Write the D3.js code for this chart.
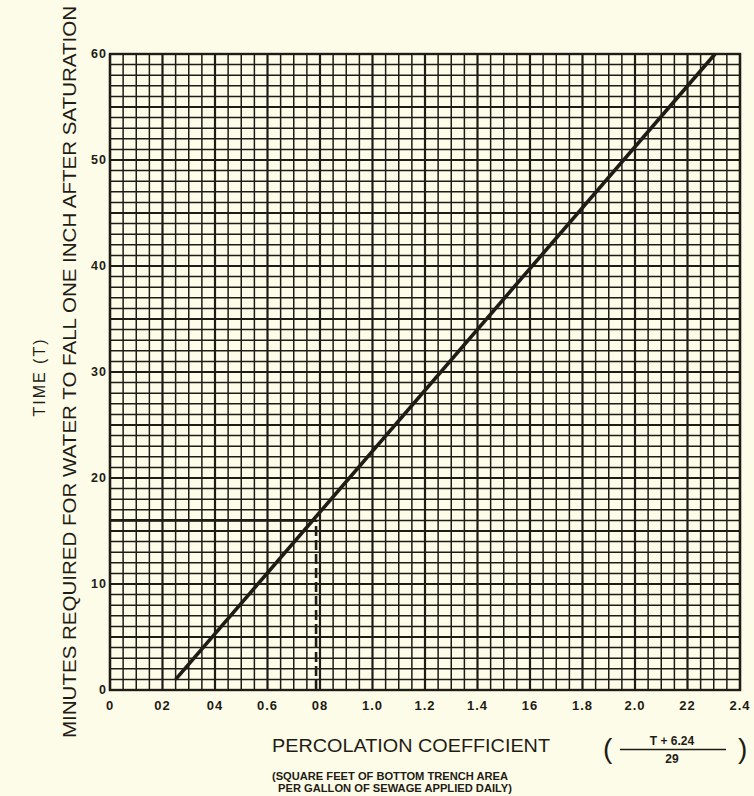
<!DOCTYPE html>
<html>
<head>
<meta charset="utf-8">
<script src="https://cdn.jsdelivr.net/npm/d3@7"></script>
<style>
  body { margin: 0; background: #fdfce8; }
  svg { display: block; }
  text { fill: #1f1b15; font-family: "Liberation Sans", Arial, sans-serif; }
</style>
</head>
<body>
<svg id="chart" width="754" height="796"></svg>
<script>
// axis ticks
var xTicks = [0, 0.2, 0.4, 0.6, 0.8, 1.0, 1.2, 1.4, 1.6, 1.8, 2.0, 2.2, 2.4]
var xTickLabels = ["0", "02", "04", "0.6", "08", "1.0", "1.2", "1.4", "16", "1.8", "2.0", "22", "2.4"]
var yTicks = [0, 10, 20, 30, 40, 50, 60]
var yTickLabels = ["0", "10", "20", "30", "40", "50", "60"]

// the curve (ends of the line)
var lineCoef = [0.25, 2.305]
var lineTime = [1, 60]

// example reading (dashed guide)
var exampleCoef = [0.785]
var exampleTime = [16]

var svg = d3.select("#chart")
var ink = "#1f1b15"

var plotL = 110, plotR = 740, plotT = 54, plotB = 690
var x = d3.scaleLinear().domain([0, 2.4]).range([plotL, plotR])
var y = d3.scaleLinear().domain([0, 60]).range([plotB, plotT])

///////
// grid
var g = svg.append("g")
var xMinor = d3.range(0, 48 + 1).map(d => d * 0.05)
var yMinor = d3.range(0, 61)

g.selectAll(".vx").data(xMinor).enter().append("line")
    .attr("x1", d => x(d)).attr("x2", d => x(d))
    .attr("y1", y(0)).attr("y2", y(60))
    .attr("stroke", ink)
    .attr("stroke-width", (d, i) => i % 4 === 0 ? 2.2 : 1.5)

g.selectAll(".hy").data(yMinor).enter().append("line")
    .attr("y1", d => y(d)).attr("y2", d => y(d))
    .attr("x1", x(0)).attr("x2", x(2.4))
    .attr("stroke", ink)
    .attr("stroke-width", (d, i) => i % 5 === 0 ? 2.2 : 1.5)

// frame
svg.append("rect")
    .attr("x", x(0)).attr("y", y(60))
    .attr("width", x(2.4) - x(0)).attr("height", y(0) - y(60))
    .attr("fill", "none").attr("stroke", ink).attr("stroke-width", 2.4)

////////
// example guide lines
svg.selectAll(".gh").data(exampleTime).enter().append("line")
    .attr("x1", x(0)).attr("x2", (d, i) => x(exampleCoef[i]))
    .attr("y1", d => y(d)).attr("y2", d => y(d))
    .attr("stroke", ink).attr("stroke-width", 2.6)

svg.selectAll(".gv").data(exampleCoef).enter().append("line")
    .attr("x1", d => x(d)).attr("x2", d => x(d))
    .attr("y1", y(0)).attr("y2", (d, i) => y(exampleTime[i]))
    .attr("stroke", ink).attr("stroke-width", 2.6)
    .attr("stroke-dasharray", "10,4")

// the line
var pts = lineCoef.map((c, i) => [c, lineTime[i]])
svg.append("path")
    .datum(pts)
    .attr("d", d3.line().x(d => x(d[0])).y(d => y(d[1])))
    .attr("fill", "none").attr("stroke", ink).attr("stroke-width", 3.6)

/////
// tick labels
svg.selectAll(".xl").data(xTicks).enter().append("text")
    .attr("x", d => x(d)).attr("y", 710)
    .attr("text-anchor", "middle")
    .style("font-size", "13px").style("font-weight", "bold").style("letter-spacing", "1px")
    .text((d, i) => xTickLabels[i])

svg.selectAll(".yl").data(yTicks).enter().append("text")
    .attr("x", 107).attr("y", d => y(d) + 4)
    .attr("text-anchor", "end")
    .style("font-size", "12.5px").style("font-weight", "bold").style("letter-spacing", "1px")
    .text((d, i) => yTickLabels[i])

///
// axis titles
svg.append("text")
    .attr("transform", "translate(45,377) rotate(-90)")
    .attr("text-anchor", "middle")
    .style("font-size", "16px").style("letter-spacing", "2px")
    .text("TIME  (T)")

svg.append("text")
    .attr("transform", "translate(76,372) rotate(-90)")
    .attr("text-anchor", "middle")
    .attr("textLength", 732).attr("lengthAdjust", "spacingAndGlyphs")
    .style("font-size", "19px")
    .text("MINUTES REQUIRED FOR WATER TO FALL ONE INCH AFTER SATURATION")

svg.append("text")
    .attr("x", 272).attr("y", 752)
    .attr("textLength", 278).attr("lengthAdjust", "spacingAndGlyphs")
    .style("font-size", "18px")
    .text("PERCOLATION  COEFFICIENT")

// formula
svg.append("text").attr("x", 603).attr("y", 758).style("font-size", "28px").style("font-weight", "300").text("(")
svg.append("text").attr("x", 738).attr("y", 758).style("font-size", "28px").style("font-weight", "300").text(")")
svg.append("text").attr("x", 672).attr("y", 745).attr("text-anchor", "middle")
    .style("font-size", "12px").style("font-weight", "bold").text("T + 6.24")
svg.append("line").attr("x1", 620).attr("x2", 726).attr("y1", 749.5).attr("y2", 749.5)
    .attr("stroke", ink).attr("stroke-width", 1.4)
svg.append("text").attr("x", 672).attr("y", 763).attr("text-anchor", "middle")
    .style("font-size", "12px").style("font-weight", "bold").text("29")

svg.append("text")
    .attr("x", 272).attr("y", 780)
    .attr("textLength", 236).attr("lengthAdjust", "spacingAndGlyphs")
    .style("font-size", "11.5px").style("font-weight", "bold")
    .text("(SQUARE FEET OF BOTTOM TRENCH AREA")
svg.append("text")
    .attr("x", 278).attr("y", 792)
    .attr("textLength", 234).attr("lengthAdjust", "spacingAndGlyphs")
    .style("font-size", "11.5px").style("font-weight", "bold")
    .text("PER GALLON OF SEWAGE APPLIED DAILY)")
</script>
</body>
</html>
